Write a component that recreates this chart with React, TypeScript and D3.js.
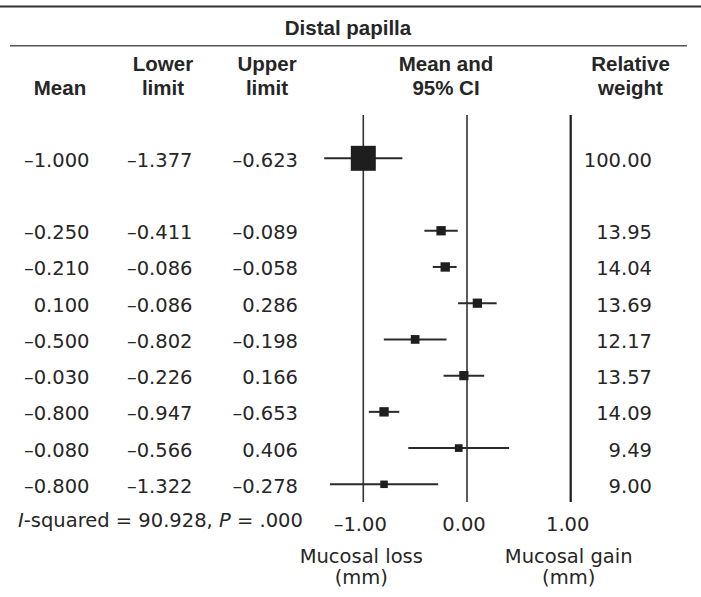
import React from "react";
import * as d3 from "d3";

const title = "Distal papilla";
const headers = [
  { lines: ["Mean"], col: "mean" },
  { lines: ["Lower", "limit"], col: "lower" },
  { lines: ["Upper", "limit"], col: "upper" },
  { lines: ["Mean and", "95% CI"], col: "ci" },
  { lines: ["Relative", "weight"], col: "weight" },
];

const means = [-1.0, -0.25, -0.21, 0.1, -0.5, -0.03, -0.8, -0.08, -0.8];
const lowers = [-1.377, -0.411, -0.086, -0.086, -0.802, -0.226, -0.947, -0.566, -1.322];
const uppers = [-0.623, -0.089, -0.058, 0.286, -0.198, 0.166, -0.653, 0.406, -0.278];
const weights = [100.0, 13.95, 14.04, 13.69, 12.17, 13.57, 14.09, 9.49, 9.0];
// CI ends as drawn in the plot (row 3 is drawn differently from its table text)
const drawnLowers = [-1.377, -0.411, -0.33, -0.086, -0.802, -0.226, -0.947, -0.566, -1.322];
const drawnUppers = [-0.623, -0.089, -0.1, 0.286, -0.198, 0.166, -0.653, 0.406, -0.278];
const slots = [0, 2, 3, 4, 5, 6, 7, 8, 9];

const xTicks = [-1, 0, 1];
const axisLabels = [
  { value: -1, lines: ["Mucosal loss", "(mm)"] },
  { value: 1, lines: ["Mucosal gain", "(mm)"] },
];

const fmt3 = (v: number) => (v < 0 ? "\u2013" : "") + d3.format(".3f")(Math.abs(v));
const fmt2 = (v: number) => (v < 0 ? "\u2013" : "") + d3.format(".2f")(Math.abs(v));

export default function App() {
  const W = 701;
  const H = 597;
  const x = d3.scaleLinear().domain([-1, 1]).range([363.3, 570.7]);
  const y = d3.scaleLinear().domain([0, 9]).range([158.3, 484.3]);
  const size = d3.scaleSqrt().domain([0, 100]).range([0, 25]);

  const bodyFont = "'DejaVu Sans', sans-serif";
  const boldFont = "'Liberation Sans', Arial, sans-serif";
  const txt = "#262626";
  const fs = 19.5;

  const colX: Record<string, number> = {
    mean: 60,
    lower: 163,
    upper: 267,
    ci: 446,
    weight: 630.5,
  };
  const rightX = { mean: 89.5, lower: 192.5, upper: 298, weight: 652 };

  return (
    <svg
      width={W}
      height={H}
      style={{ position: "absolute", left: 0, top: 0, background: "#fff" }}
    >
      <line x1={0} x2={W} y1={6.5} y2={6.5} stroke="#333" strokeWidth={2} />
      <text
        x={348}
        y={35}
        textAnchor="middle"
        fontFamily={boldFont}
        fontWeight="bold"
        fontSize={20.5}
        fill={txt}
      >
        {title}
      </text>
      <line x1={10} x2={687} y1={45.7} y2={45.7} stroke="#555" strokeWidth={1.5} />

      {headers.map((h) =>
        h.lines.map((ln, i) => (
          <text
            key={h.col + i}
            x={colX[h.col]}
            y={h.lines.length === 1 ? 95 : 71 + i * 23.5}
            textAnchor="middle"
            fontFamily={boldFont}
            fontWeight="bold"
            fontSize={20.5}
            fill={txt}
          >
            {ln}
          </text>
        ))
      )}

      {xTicks.map((t) => (
        <line
          key={"v" + t}
          x1={x(t)}
          x2={x(t)}
          y1={115}
          y2={502}
          stroke={t === 1 ? "#1a1a1a" : "#333"}
          strokeWidth={t === 1 ? 2.2 : 1.6}
        />
      ))}

      {means.map((m, i) => {
        const cy = y(slots[i]);
        const s = size(weights[i]);
        return (
          <g key={"r" + i}>
            <line
              x1={x(drawnLowers[i])}
              x2={x(drawnUppers[i])}
              y1={cy}
              y2={cy}
              stroke="#2a2a2a"
              strokeWidth={2}
            />
            <rect x={x(m) - s / 2} y={cy - s / 2} width={s} height={s} fill="#1e1e1e" />
            <text x={rightX.mean} y={cy + 8.5} textAnchor="end" fontFamily={bodyFont} fontSize={fs} fill={txt}>
              {fmt3(m)}
            </text>
            <text x={rightX.lower} y={cy + 8.5} textAnchor="end" fontFamily={bodyFont} fontSize={fs} fill={txt}>
              {fmt3(lowers[i])}
            </text>
            <text x={rightX.upper} y={cy + 8.5} textAnchor="end" fontFamily={bodyFont} fontSize={fs} fill={txt}>
              {fmt3(uppers[i])}
            </text>
            <text x={rightX.weight} y={cy + 8.5} textAnchor="end" fontFamily={bodyFont} fontSize={fs} fill={txt}>
              {d3.format(".2f")(weights[i])}
            </text>
          </g>
        );
      })}

      <text x={18} y={527} fontFamily={bodyFont} fontSize={fs} fill={txt}>
        <tspan fontStyle="italic">I</tspan>
        <tspan>-squared = 90.928, </tspan>
        <tspan fontStyle="italic">P</tspan>
        <tspan> = .000</tspan>
      </text>

      {xTicks.map((t) => (
        <text
          key={"t" + t}
          x={x(t) - 3}
          y={531}
          textAnchor="middle"
          fontFamily={bodyFont}
          fontSize={fs}
          fill={txt}
        >
          {fmt2(t)}
        </text>
      ))}

      {axisLabels.map((a) =>
        a.lines.map((ln, i) => (
          <text
            key={a.value + "-" + i}
            x={x(a.value) - 2}
            y={563 + i * 21}
            textAnchor="middle"
            fontFamily={bodyFont}
            fontSize={fs}
            fill={txt}
          >
            {ln}
          </text>
        ))
      )}
    </svg>
  );
}
